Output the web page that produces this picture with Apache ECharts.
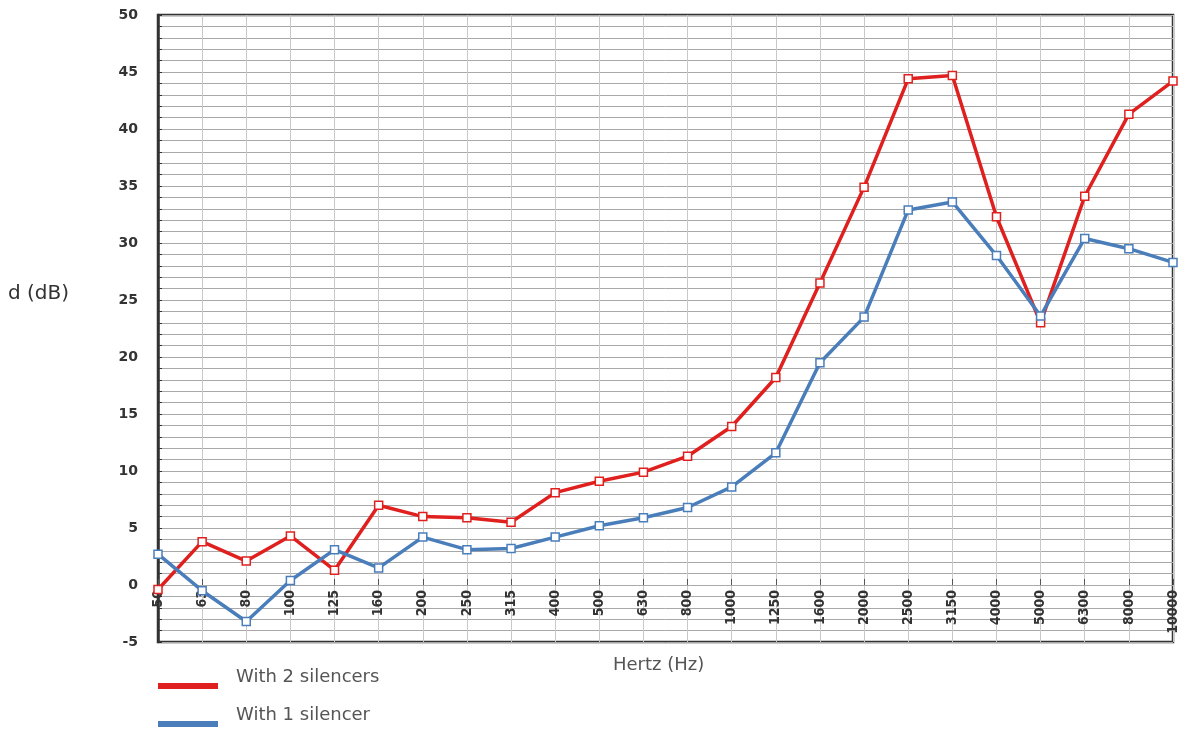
<!DOCTYPE html>
<html>
<head>
<meta charset="utf-8">
<script src="https://cdn.jsdelivr.net/npm/echarts@6/dist/echarts.min.js"></script>
<style>
  html, body { margin: 0; padding: 0; background: #fff; }
  #chart { width: 1186px; height: 734px; }
</style>
</head>
<body>
<div id="chart"></div>
<script>
// frequency bands (Hz)
const bands = ['50', '63', '80', '100', '125', '160', '200', '250', '315', '400', '500', '630',
  '800', '1000', '1250', '1600', '2000', '2500', '3150', '4000', '5000', '6300', '8000', '10000']

// attenuation d (dB)
const twoSilencers = [-0.4, 3.8, 2.1, 4.3, 1.3, 7.0, 6.0, 5.9, 5.5, 8.1, 9.1, 9.9,
  11.3, 13.9, 18.2, 26.5, 34.9, 44.4, 44.7, 32.3, 23.0, 34.1, 41.3, 44.2]
const oneSilencer = [2.7, -0.5, -3.2, 0.4, 3.1, 1.5, 4.2, 3.1, 3.2, 4.2, 5.2, 5.9,
  6.8, 8.6, 11.6, 19.5, 23.5, 32.9, 33.6, 28.9, 23.6, 30.4, 29.5, 28.3]

const RED = '#e0201e'
const BLUE = '#4a7ebb'
const textFont = '"DejaVu Sans", sans-serif'
// 图例色条画在图标框底部，使文字位于色条上方
const barIcon = 'path://M0,0 L0,0 M0,18 L60,18 L60,24 L0,24 Z'

const chart = echarts.init(document.getElementById('chart'))

// 折线系列通用样式
const makeSeries = (name, data, color) => ({
  name: name,
  type: 'line',
  data: data,
  symbol: 'rect',
  symbolSize: 8,
  lineStyle: { color: color, width: 3.5 },
  itemStyle: { color: '#fff', borderColor: color, borderWidth: 1.5 },
  z: 3
})

chart.setOption({
  animation: false,
  grid: {
    left: 158, top: 15, right: 13, bottom: 92,
    show: true,
    borderColor: '#333',
    borderWidth: 2.5
  },
  legend: {
    orient: 'vertical',
    left: 158,
    top: 665,
    padding: 0,
    itemWidth: 60,
    itemHeight: 24,
    itemGap: 14,
    selectedMode: false,
    textStyle: {
      fontFamily: textFont,
      fontSize: 18,
      color: '#555',
      padding: [0, 0, 0, 13]
    },
    data: [
      { name: 'With 2 silencers', icon: barIcon, itemStyle: { color: RED, borderWidth: 0 } },
      { name: 'With 1 silencer', icon: barIcon, itemStyle: { color: BLUE, borderWidth: 0 } }
    ]
  },
  xAxis: {
    type: 'category',
    data: bands,
    boundaryGap: false,
    position: 'bottom',
    offset: -57,
    axisLine: { show: true, onZero: false, lineStyle: { color: '#aaa', width: 1 } },
    axisTick: { show: true, inside: true, length: 6, lineStyle: { color: '#555' } },
    axisLabel: {
      rotate: 90,
      margin: 5,
      interval: 0,
      fontFamily: '"DejaVu Sans Condensed", "Liberation Sans Narrow", sans-serif',
      fontWeight: 'bold',
      fontSize: 14,
      color: '#333'
    },
    splitLine: { show: true, lineStyle: { color: '#c8c8c8', width: 1 } }
  },
  yAxis: {
    type: 'value',
    min: -5,
    max: 50,
    interval: 5,
    axisLine: { show: true, lineStyle: { color: '#333', width: 2.5 } },
    axisTick: { show: true, inside: true, length: 4, lineStyle: { color: '#333' } },
    minorTick: { show: true, splitNumber: 5, length: 4, lineStyle: { color: '#333' } },
    axisLabel: {
      margin: 20,
      fontFamily: textFont,
      fontWeight: 'bold',
      fontSize: 14,
      color: '#333'
    },
    splitLine: { show: true, lineStyle: { color: '#a8a8a8', width: 1 } },
    minorSplitLine: { show: true, lineStyle: { color: '#a8a8a8', width: 1 } }
  },
  graphic: [
    {
      type: 'text',
      left: 8,
      top: 284,
      style: { text: 'd (dB)', font: '20px ' + textFont, fill: '#333' }
    },
    {
      type: 'text',
      left: 613,
      top: 656,
      style: { text: 'Hertz (Hz)', font: '18px ' + textFont, fill: '#555' }
    }
  ],
  series: [
    makeSeries('With 2 silencers', twoSilencers, RED),
    makeSeries('With 1 silencer', oneSilencer, BLUE)
  ]
})
</script>
</body>
</html>
